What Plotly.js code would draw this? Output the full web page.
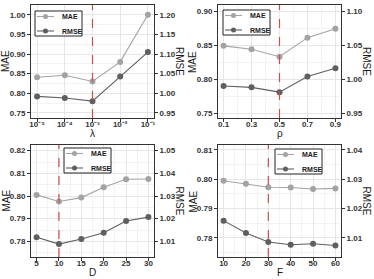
<!DOCTYPE html>
<html>
<head>
<meta charset="utf-8">
<script src="https://cdn.plot.ly/plotly-3.0.1.min.js"></script>
<style>html,body{margin:0;padding:0;background:#fff;}#chart{width:374px;height:279px;}</style>
</head>
<body>
<div id="chart"></div>
<script>
// ---- data ----
const lambdaVals   = [1e-5, 1e-4, 1e-3, 1e-2, 1e-1];
const lambdaLabels = ['10⁻⁵', '10⁻⁴', '10⁻³', '10⁻²', '10⁻¹'];
const lambdaMAE  = [0.841, 0.846, 0.830, 0.880, 1.000];
const lambdaRMSE = [0.992, 0.988, 0.980, 1.043, 1.105];

const rhoVals = [0.1, 0.3, 0.5, 0.7, 0.9];
const rhoMAE  = [0.849, 0.844, 0.833, 0.861, 0.874];
const rhoRMSE = [0.990, 0.988, 0.981, 1.004, 1.016];

const dVals = [5, 10, 15, 20, 25, 30];
const dMAE  = [0.8005, 0.7976, 0.7993, 0.8039, 0.8074, 0.8075];
const dRMSE = [1.0118, 1.0088, 1.0110, 1.0138, 1.0190, 1.0207];

const fVals = [10, 20, 30, 40, 50, 60];
const fMAE  = [0.7995, 0.7985, 0.7973, 0.7972, 0.7967, 0.7969];
const fRMSE = [1.0159, 1.0117, 1.0086, 1.0077, 1.0080, 1.0074];

const bestVals = [1e-3, 0.5, 10, 30];
const xTitles = ['λ', 'ρ', 'D', 'F'];
const seriesNames = ['MAE', 'RMSE'];

// ---- styling ----
const W = 374, H = 279;
const seriesColors = ['#a3a3a3', '#5f5f5f'];
const FAM = 'Liberation Sans, Arial, sans-serif';
const tickFont = {family: FAM, size: 8, color: '#333333', weight: 'bold'};
const titleFont = {family: FAM, size: 10, color: '#1a1a1a'};
const gridC = '#e6e6e6', minorC = '#f3f3f3', lineC = '#333333';

const xPix = [[31, 154], [218, 341], [31, 154], [218, 341]];
const yPix = [[5, 118], [5, 118], [145, 257], [145, 257]];
const xDom = xPix.map(a => [a[0] / W, a[1] / W]);
const yDom = yPix.map(a => [1 - a[1] / H, 1 - a[0] / H]);

const panels = [
  {x: lambdaVals, mae: lambdaMAE, rmse: lambdaRMSE, xtype: 'log', xrange: [-5.22, -0.78],
   yr: [0.737, 1.025], off: 0.2, ldt: 0.05, ytick0: 0.75, yminor: 0.025, leg: [35, 11]},
  {x: rhoVals, mae: rhoMAE, rmse: rhoRMSE, xtype: 'linear', xrange: [0.06, 0.94], xtick0: 0.1, xdt: 0.2, xminor: 0.1,
   yr: [0.743, 0.909], off: 0.2, ldt: 0.05, ytick0: 0.75, yminor: 0.025, leg: [223, 10]},
  {x: dVals, mae: dMAE, rmse: dRMSE, xtype: 'linear', xrange: [3.75, 31.25], xtick0: 5, xdt: 5, xminor: 2.5,
   yr: [0.7731, 0.8225], off: 0.23, ldt: 0.01, ytick0: 0.78, yminor: 0.005, leg: [64, 148]},
  {x: fVals, mae: fMAE, rmse: fRMSE, xtype: 'linear', xrange: [7.5, 62.5], xtick0: 10, xdt: 10, xminor: 5,
   yr: [0.7735, 0.8117], off: 0.23, ldt: 0.01, ytick0: 0.78, yminor: 0.005, leg: [275, 149]}
];

const data = [];
const layout = {
  width: W, height: H,
  margin: {l: 0, r: 0, t: 0, b: 0},
  paper_bgcolor: '#ffffff', plot_bgcolor: '#ffffff',
  showlegend: false,
  shapes: [], annotations: []
};

const px = v => v / W, py = v => 1 - v / H;

panels.forEach((p, i) => {
  const n = i + 1;
  const xa = n === 1 ? 'x' : 'x' + n;
  const ylN = 2*i + 1, yrN = 2*i + 2;
  const yl = ylN === 1 ? 'y' : 'y' + ylN;
  const yr = 'y' + yrN;

  data.push({x: p.x, y: p.mae, name: seriesNames[0], type: 'scatter', mode: 'lines+markers',
    xaxis: xa, yaxis: yl, cliponaxis: false,
    line: {color: seriesColors[0], width: 1.1}, marker: {color: seriesColors[0], size: 6}});
  data.push({x: p.x, y: p.rmse, name: seriesNames[1], type: 'scatter', mode: 'lines+markers',
    xaxis: xa, yaxis: yr, cliponaxis: false,
    line: {color: seriesColors[1], width: 1.1}, marker: {color: seriesColors[1], size: 6}});

  const xKey = n === 1 ? 'xaxis' : 'xaxis' + n;
  const ylKey = ylN === 1 ? 'yaxis' : 'yaxis' + ylN;
  const yrKey = 'yaxis' + yrN;

  const xax = {
    domain: xDom[i], anchor: yl, type: p.xtype, range: p.xrange,
    showline: true, mirror: true, linecolor: lineC, linewidth: 1,
    ticks: 'outside', ticklen: 3, tickcolor: lineC, tickfont: tickFont, ticklabelstandoff: -5,
    showgrid: true, gridcolor: gridC, gridwidth: 1, zeroline: false
  };
  if (p.xtype === 'log') {
    xax.tickmode = 'array'; xax.tickvals = lambdaVals; xax.ticktext = lambdaLabels;
  } else {
    xax.tick0 = p.xtick0; xax.dtick = p.xdt;
    xax.minor = {dtick: p.xminor, tick0: p.xtick0, showgrid: true, gridcolor: minorC, ticks: ''};
  }
  layout[xKey] = xax;

  layout[ylKey] = {
    domain: yDom[i], anchor: xa, range: p.yr,
    tick0: p.ytick0, dtick: p.ldt, tickformat: '.2f',
    showline: true, mirror: true, linecolor: lineC, linewidth: 1,
    ticks: 'outside', ticklen: 3, tickcolor: lineC, tickfont: tickFont,
    showgrid: true, gridcolor: gridC, zeroline: false,
    minor: {dtick: p.yminor, tick0: p.ytick0, showgrid: true, gridcolor: minorC, ticks: ''}
  };
  layout[yrKey] = {
    overlaying: yl, side: 'right', anchor: xa,
    range: [p.yr[0] + p.off, p.yr[1] + p.off],
    tick0: p.ytick0 + p.off, dtick: p.ldt, tickformat: '.2f',
    showline: false, ticks: 'outside', ticklen: 3, tickcolor: lineC, tickfont: tickFont,
    showgrid: false, zeroline: false
  };

  // optimum marker line
  layout.shapes.push({type: 'line', xref: xa, yref: yl + ' domain', x0: bestVals[i], x1: bestVals[i],
    y0: 0, y1: 1, layer: 'above', line: {color: '#cc4f4c', width: 1.2, dash: 'dash'}});

  const ymid = (yPix[i][0] + yPix[i][1]) / 2;
  const xmid = (xPix[i][0] + xPix[i][1]) / 2;
  // axis titles
  layout.annotations.push({text: 'MAE', xref: 'paper', yref: 'paper', x: px(xPix[i][0] - 25.5),
    y: py(ymid), textangle: -90, showarrow: false, xanchor: 'center', yanchor: 'middle', font: titleFont});
  layout.annotations.push({text: 'RMSE', xref: 'paper', yref: 'paper', x: px(xPix[i][1] + 25.5),
    y: py(ymid), textangle: 90, showarrow: false, xanchor: 'center', yanchor: 'middle', font: titleFont});
  layout.annotations.push({text: xTitles[i], xref: 'paper', yref: 'paper', x: px(xmid),
    y: py(yPix[i][1] + 15.5), showarrow: false, xanchor: 'center', yanchor: 'middle', font: titleFont});

  // small boxed legend
  const bx = p.leg[0], by = p.leg[1], bw = 47, bh = 25;
  layout.shapes.push({type: 'rect', xref: 'paper', yref: 'paper', x0: px(bx), x1: px(bx + bw),
    y0: py(by + bh), y1: py(by), fillcolor: '#ffffff', line: {color: '#222222', width: 1}, layer: 'above'});
  seriesNames.forEach((nm, k) => {
    const ry = by + 5.5 + 14.5 * k;
    layout.shapes.push({type: 'line', xref: 'paper', yref: 'paper', x0: px(bx + 2), x1: px(bx + 19),
      y0: py(ry), y1: py(ry), line: {color: seriesColors[k], width: 1.1}, layer: 'above'});
    layout.shapes.push({type: 'circle', xref: 'paper', yref: 'paper', x0: px(bx + 8), x1: px(bx + 13),
      y0: py(ry + 2.5), y1: py(ry - 2.5), fillcolor: seriesColors[k], line: {width: 0}, layer: 'above'});
    layout.annotations.push({text: nm, xref: 'paper', yref: 'paper', x: px(bx + 25), y: py(ry),
      xanchor: 'left', yanchor: 'middle', showarrow: false,
      font: {family: FAM, size: 7, color: '#1a1a1a', weight: 'bold'}});
  });
});

Plotly.newPlot('chart', data, layout, {displayModeBar: false, staticPlot: true});
</script>
</body>
</html>
